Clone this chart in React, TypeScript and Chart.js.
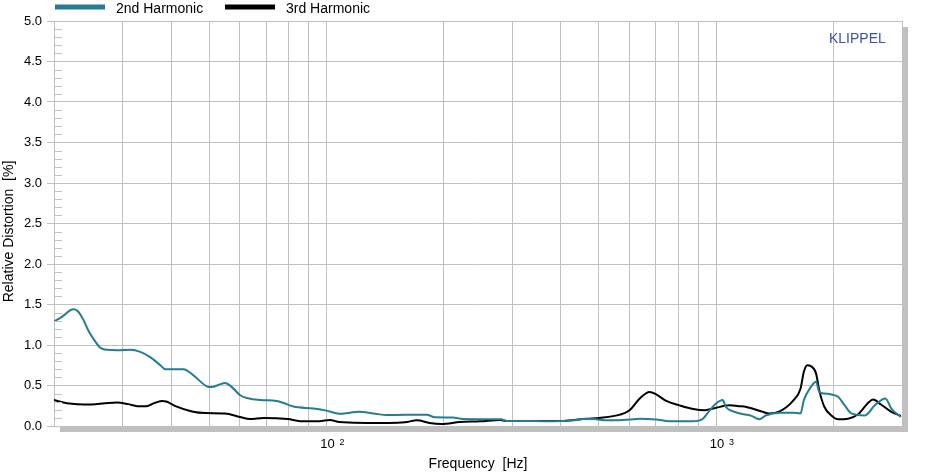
import React, { useEffect, useRef } from 'react';
import { Chart, registerables } from 'chart.js';

Chart.register(...registerables);

// ---- data ----
const seriesNames = ['2nd Harmonic', '3rd Harmonic'];
const seriesColors = ['#267c91', '#000000'];

const xGridTicks = [20, 30, 40, 50, 60, 70, 80, 90, 100, 200, 300, 400, 500, 600, 700, 800, 900, 1000, 2000, 3000];
const xLabelDecades = [2, 3];
const yMajorStep = 0.5;
const yMinorStep = 0.1;

const freq2 = [20, 21, 22.4, 23, 23.8, 24.5, 25.3, 26.3, 27.4, 29, 31.4, 33.3, 35.3, 37.5, 38.6, 43, 45.6, 49.3, 50.8, 53, 55, 57.2, 60.1, 62.5, 67.6, 74.6, 78, 82.3, 92.6, 100, 108, 115, 121, 132, 143, 181, 190, 211, 224, 281, 290, 339, 383, 430, 455, 484, 524, 545, 600, 637, 702, 760, 874, 925, 964, 1000, 1040, 1060, 1106, 1150, 1196, 1232, 1292, 1341, 1456, 1581, 1647, 1680, 1750, 1805, 1840, 1897, 1976, 2056, 2139, 2225, 2410, 2555, 2720, 2816, 2980];
const harm2 = [1.29, 1.35, 1.44, 1.42, 1.31, 1.18, 1.07, 0.965, 0.94, 0.935, 0.94, 0.915, 0.85, 0.75, 0.7, 0.7, 0.625, 0.49, 0.48, 0.51, 0.53, 0.48, 0.38, 0.345, 0.32, 0.31, 0.28, 0.24, 0.215, 0.19, 0.15, 0.165, 0.175, 0.155, 0.135, 0.14, 0.107, 0.105, 0.085, 0.083, 0.062, 0.062, 0.058, 0.07, 0.087, 0.087, 0.07, 0.07, 0.08, 0.09, 0.08, 0.058, 0.058, 0.09, 0.195, 0.277, 0.32, 0.235, 0.18, 0.155, 0.14, 0.125, 0.083, 0.13, 0.165, 0.165, 0.155, 0.32, 0.48, 0.545, 0.42, 0.4, 0.39, 0.36, 0.255, 0.155, 0.13, 0.255, 0.34, 0.215, 0.11];

const freq3 = [20, 21.6, 25, 27, 29, 31, 32.7, 34.6, 36, 37.8, 39, 41, 45.2, 48.9, 55, 60, 63.7, 69, 79.7, 85.6, 96, 102, 108, 145, 159, 171, 184, 198, 220, 248, 279, 290, 397, 465, 502, 567, 600, 637, 675, 702, 745, 806, 874, 935, 1000, 1082, 1150, 1196, 1317, 1368, 1456, 1581, 1647, 1680, 1715, 1750, 1805, 1840, 1897, 1976, 2056, 2181, 2314, 2455, 2530, 2650, 2816, 2980];
const harm3 = [0.32, 0.28, 0.265, 0.28, 0.29, 0.27, 0.245, 0.245, 0.28, 0.31, 0.3, 0.245, 0.18, 0.16, 0.155, 0.11, 0.085, 0.1, 0.085, 0.06, 0.06, 0.075, 0.05, 0.037, 0.045, 0.07, 0.037, 0.025, 0.05, 0.058, 0.074, 0.062, 0.062, 0.09, 0.1, 0.14, 0.195, 0.34, 0.42, 0.39, 0.31, 0.255, 0.21, 0.195, 0.225, 0.255, 0.245, 0.235, 0.175, 0.155, 0.18, 0.32, 0.46, 0.67, 0.75, 0.74, 0.65, 0.44, 0.235, 0.13, 0.083, 0.09, 0.145, 0.285, 0.326, 0.265, 0.175, 0.125];

const FONT = "'Liberation Sans', Arial, sans-serif";
const GRID = '#c0c0c0';

const decor = {
  id: 'decor',
  beforeDraw(chart: any) {
    const { ctx, chartArea: a } = chart;
    ctx.save();
    ctx.fillStyle = '#ffffff';
    ctx.fillRect(0, 0, chart.width, chart.height);
    ctx.fillStyle = GRID;
    ctx.fillRect(a.left + 6, a.top + 6, a.right - a.left, a.bottom - a.top);
    ctx.fillStyle = '#ffffff';
    ctx.fillRect(a.left, a.top, a.right - a.left, a.bottom - a.top);
    ctx.restore();
  },
  afterDraw(chart: any) {
    const { ctx, chartArea: a } = chart;
    const xs = chart.scales.x;
    const ys = chart.scales.y;
    ctx.save();
    // minor y ticks
    ctx.strokeStyle = GRID;
    ctx.lineWidth = 1;
    ctx.beginPath();
    for (let i = 1; i < 50; i++) {
      if (i % 5 === 0) continue;
      const y = Math.round(ys.getPixelForValue(i * yMinorStep)) + 0.5;
      ctx.moveTo(a.left, y);
      ctx.lineTo(a.left + 8, y);
    }
    ctx.stroke();

    // x decade labels
    ctx.fillStyle = '#000';
    ctx.textBaseline = 'alphabetic';
    for (const d of xLabelDecades) {
      const px = xs.getPixelForValue(Math.pow(10, d));
      ctx.font = `13px ${FONT}`;
      ctx.textAlign = 'center';
      ctx.fillText('10', px + 1, 448);
      ctx.font = `9px ${FONT}`;
      ctx.textAlign = 'left';
      ctx.fillText(String(d), px + 13, 444.5);
    }

    // axis titles
    ctx.font = `14px ${FONT}`;
    ctx.textAlign = 'center';
    ctx.fillText('Frequency  [Hz]', (a.left + a.right) / 2, 468);
    ctx.save();
    ctx.translate(13, 231.5);
    ctx.rotate(-Math.PI / 2);
    ctx.fillText('Relative Distortion  [%]', 0, 0);
    ctx.restore();

    // legend
    const legendX = [55, 225];
    ctx.textAlign = 'left';
    seriesNames.forEach((name, i) => {
      ctx.strokeStyle = seriesColors[i];
      ctx.lineWidth = 5;
      ctx.beginPath();
      ctx.moveTo(legendX[i], 7);
      ctx.lineTo(legendX[i] + 50, 7);
      ctx.stroke();
      ctx.fillStyle = '#000';
      ctx.font = `14px ${FONT}`;
      ctx.fillText(name, legendX[i] + 61, 12.5);
    });

    // brand
    ctx.fillStyle = '#3a52a8';
    ctx.font = `14px ${FONT}`;
    ctx.fillText('KLIPPEL', 829, 43);
    ctx.restore();
  },
};

export default function App() {
  const ref = useRef<HTMLCanvasElement | null>(null);
  useEffect(() => {
    if (!ref.current) return;
    const chart = new Chart(ref.current, {
      type: 'line',
      data: {
        datasets: [
          {
            label: seriesNames[0],
            data: freq2.map((f, i) => ({ x: f, y: harm2[i] })),
            borderColor: seriesColors[0],
            borderWidth: 2,
            pointRadius: 0,
            fill: false,
            cubicInterpolationMode: 'monotone',
          },
          {
            label: seriesNames[1],
            data: freq3.map((f, i) => ({ x: f, y: harm3[i] })),
            borderColor: seriesColors[1],
            borderWidth: 2,
            pointRadius: 0,
            fill: false,
            cubicInterpolationMode: 'monotone',
          },
        ],
      },
      options: {
        animation: false,
        responsive: false,
        devicePixelRatio: 1,
        events: [],
        layout: { padding: { top: 21, right: 34, left: 0, bottom: 0 } },
        plugins: { legend: { display: false }, tooltip: { enabled: false } },
        scales: {
          x: {
            type: 'logarithmic',
            min: 20,
            max: 3000,
            afterBuildTicks: (s: any) => {
              s.ticks = xGridTicks.map((v) => ({ value: v }));
            },
            afterFit: (s: any) => {
              s.height = 49;
            },
            ticks: { display: false },
            grid: { color: GRID, drawTicks: false, tickLength: 0 },
            border: { color: GRID },
          },
          y: {
            min: 0,
            max: 5,
            afterFit: (s: any) => {
              s.width = 54;
            },
            ticks: {
              stepSize: yMajorStep,
              padding: 5,
              color: '#000',
              font: { family: FONT, size: 13 },
              callback: (v: any) => Number(v).toFixed(1),
            },
            grid: { color: GRID, tickLength: 7 },
            border: { color: GRID },
          },
        },
      },
      plugins: [decor],
    });
    return () => chart.destroy();
  }, []);
  return (
    <div style={{ position: 'absolute', left: 0, top: 0, width: 936, height: 475 }}>
      <canvas ref={ref} width={936} height={475} style={{ display: 'block' }} />
    </div>
  );
}
